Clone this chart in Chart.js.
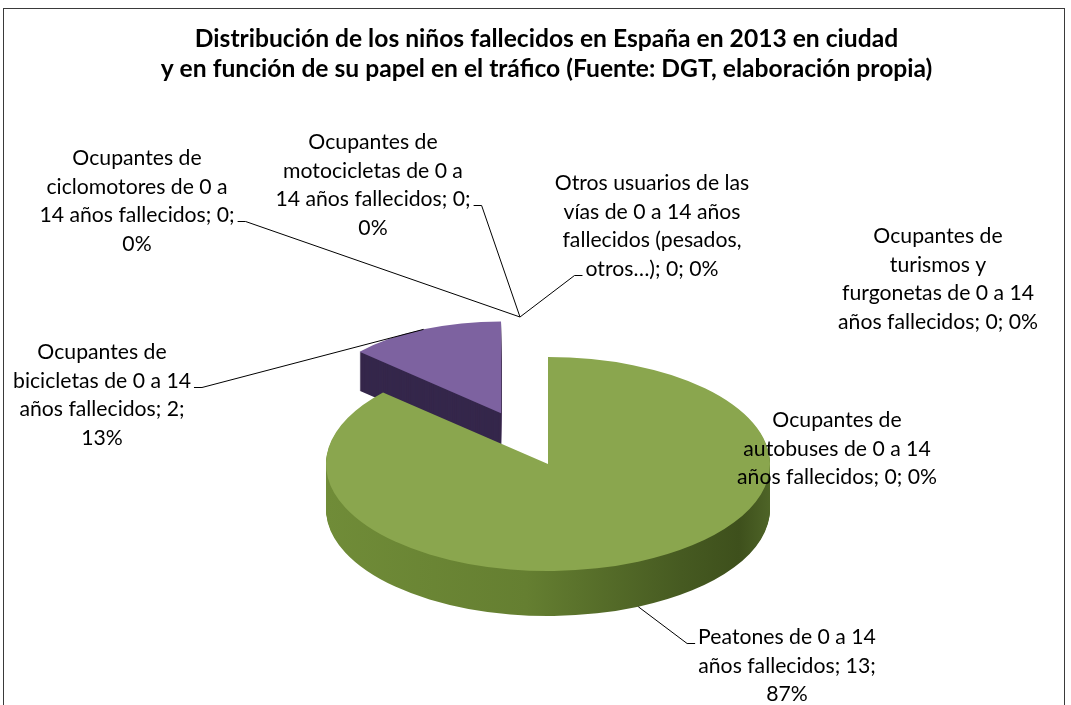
<!DOCTYPE html>
<html><head><meta charset="utf-8">
<script src="https://cdn.jsdelivr.net/npm/chart.js@4.4.1/dist/chart.umd.min.js"></script>
<style>html,body{margin:0;padding:0;background:#fff}canvas{display:block}</style>
</head><body>
<canvas id="c" width="1071" height="705"></canvas>
<script>
// ---------- data ----------
const titleLines = [
  "Distribución de los niños fallecidos en España en 2013 en ciudad",
  "y en función de su papel en el tráfico (Fuente: DGT, elaboración propia)"
];
const categories = [
  "Ocupantes de turismos y furgonetas de 0 a 14 años fallecidos",
  "Ocupantes de autobuses de 0 a 14 años fallecidos",
  "Peatones de 0 a 14 años fallecidos",
  "Ocupantes de bicicletas de 0 a 14 años fallecidos",
  "Ocupantes de ciclomotores de 0 a 14 años fallecidos",
  "Ocupantes de motocicletas de 0 a 14 años fallecidos",
  "Otros usuarios de las vías de 0 a 14 años fallecidos (pesados, otros…)"
];
const values = [0, 0, 13, 2, 0, 0, 0];

// ---------- styles ----------
const topColors  = ['#4F81BD', '#C0504D', '#8AA64E', '#7D62A0', '#4BACC6', '#F79646', '#2C4D75'];
const sideColors = ['#2c4a6e', '#6e2c2a', null, '#35274B', '#2a6272', '#8c5220', '#182a40'];
const PIE = { cx: 548, cy: 464, rx: 222, ry: 107, depth: 45, persp: 0.3,
              explode: [0, 0, 0, 0.52, 0, 0, 0] };
const LINE_H = 28.7;
const ZERO_ANCHOR = { x: 520, y: 317 };
// label layout: centre x, first line centre y, words per line, leader
const LABELS = [
  { x: 938, y: 236, breaks: [2, 2, 5, 4] },
  { x: 837, y: 420, breaks: [2, 5, 4] },
  { x: 787, y: 637, breaks: [5, 3, 1], leader: { line: 0, side: 'left', anchor: 'side' } },
  { x: 102, y: 352, breaks: [2, 5, 3, 1], leader: { line: 1, side: 'right', anchor: 'top' } },
  { x: 137, y: 158, breaks: [2, 4, 4, 1], leader: { line: 2, side: 'right', anchor: 'zero' } },
  { x: 373, y: 142, breaks: [2, 4, 4, 1], leader: { line: 2, side: 'right', anchor: 'zero' } },
  { x: 652, y: 183, breaks: [4, 6, 2, 3], leader: { line: 3, side: 'left', anchor: 'zero' } }
];

// ---------- font sizing ----------
const mctx = document.createElement('canvas').getContext('2d');
mctx.font = 'bold 22px Lato';
const TITLE_SIZE = 22 * 704 / mctx.measureText(titleLines[0]).width;
mctx.font = '21px Lato';
const LABEL_SIZE = 21 * 200 / mctx.measureText('años fallecidos; 0; 0%').width;
const total = values.reduce((s, v) => s + v, 0);

function geom(a, i) {
  const R = a.outerRadius;
  const m = (a.startAngle + a.endAngle) / 2;
  const d = PIE.explode[i] * PIE.rx;
  const f = 1 + PIE.persp * Math.sin(m) * PIE.explode[i];
  return { R, m, f, sx: PIE.rx * f / R, sy: PIE.ry * f / R,
    ex: d * Math.cos(m), ey: d * Math.sin(m) * PIE.ry / PIE.rx };
}

const framePlugin = {
  id: 'frame',
  beforeDraw(chart) {
    const ctx = chart.ctx;
    ctx.save();
    ctx.fillStyle = '#fff';
    ctx.fillRect(0, 0, chart.width, chart.height);
    ctx.strokeStyle = '#3a3a3a';
    ctx.lineWidth = 1;
    ctx.strokeRect(3.5, 8.5, 1061, 760);
    ctx.restore();
  }
};

const pie3d = {
  id: 'pie3d',
  beforeDatasetsDraw(chart) {
    const ctx = chart.ctx;
    const meta = chart.getDatasetMeta(0);
    const arcs = meta.data.map((a, i) => ({ a, i })).filter(o => o.a.circumference > 0);
    arcs.sort((p, q) => Math.sin((p.a.startAngle + p.a.endAngle) / 2) - Math.sin((q.a.startAngle + q.a.endAngle) / 2));
    for (const { a, i } of arcs) {
      const g = geom(a, i);
      const drawWith = (fill, t) => {
        ctx.save();
        ctx.translate(PIE.cx + g.ex, PIE.cy + g.ey + t);
        ctx.scale(g.sx, g.sy);
        ctx.translate(-a.x, -a.y);
        let f = fill;
        if (fill === null) {
          const gr = ctx.createLinearGradient(a.x - g.R, 0, a.x + g.R, 0);
          gr.addColorStop(0, '#708C38');
          gr.addColorStop(0.45, '#657F31');
          gr.addColorStop(0.8, '#465A21');
          gr.addColorStop(0.93, '#3E501C');
          gr.addColorStop(1, '#4E6427');
          f = gr;
        }
        const proxy = Object.create(a);
        proxy.options = Object.assign({}, a.options, { backgroundColor: f, borderWidth: 0, offset: 0 });
        a.draw.call(proxy, ctx);
        ctx.restore();
      };
      const dep = Math.round(PIE.depth * g.f);
      for (let t = dep; t >= 1; t--) drawWith(sideColors[i], t);
      drawWith(topColors[i], 0);
    }
    return false;
  },
  afterDraw(chart) {
    const ctx = chart.ctx;
    const meta = chart.getDatasetMeta(0);
    ctx.save();
    ctx.font = LABEL_SIZE + 'px Lato';
    ctx.textAlign = 'center';
    ctx.textBaseline = 'middle';
    ctx.fillStyle = '#000';
    ctx.strokeStyle = '#000';
    ctx.lineWidth = 1;
    categories.forEach((c, i) => {
      const L = LABELS[i];
      const pct = total ? Math.round(values[i] / total * 100) : 0;
      const words = (c + '; ' + values[i] + '; ' + pct + '%').split(' ');
      const lines = [];
      let k = 0;
      for (const n of L.breaks) { lines.push(words.slice(k, k + n).join(' ')); k += n; }
      lines.forEach((ln, j) => ctx.fillText(ln, L.x, L.y + j * LINE_H));
      if (L.leader) {
        const ld = L.leader;
        const w = ctx.measureText(lines[ld.line]).width;
        const y0 = Math.round(L.y + ld.line * LINE_H + 6) + 0.5;
        const x0 = ld.side === 'right' ? L.x + w / 2 + 3 : L.x - w / 2 - 3;
        const x1 = ld.side === 'right' ? x0 + 8 : x0 - 8;
        let ax, ay;
        if (ld.anchor === 'zero') { ax = ZERO_ANCHOR.x; ay = ZERO_ANCHOR.y; }
        else {
          const a = meta.data[i];
          const g = geom(a, i);
          ax = PIE.cx + g.ex + PIE.rx * g.f * Math.cos(g.m);
          ay = PIE.cy + g.ey + PIE.ry * g.f * Math.sin(g.m) + (ld.anchor === 'side' ? PIE.depth * g.f : 0);
        }
        ctx.beginPath();
        ctx.moveTo(x0, y0);
        ctx.lineTo(x1, y0);
        ctx.lineTo(ax, ay);
        ctx.stroke();
      }
    });
    ctx.restore();
  }
};

new Chart(document.getElementById('c'), {
  type: 'pie',
  data: {
    labels: categories,
    datasets: [{ data: values, backgroundColor: topColors, borderWidth: 0 }]
  },
  options: {
    responsive: false,
    devicePixelRatio: 1,
    animation: false,
    layout: { padding: { left: 22, top: 0 } },
    plugins: {
      legend: { display: false },
      tooltip: { enabled: false },
      title: {
        display: true,
        text: titleLines,
        color: '#000',
        font: { family: 'Lato', weight: 'bold', size: TITLE_SIZE, lineHeight: 30 / TITLE_SIZE },
        padding: { top: 24, bottom: 10 }
      }
    }
  },
  plugins: [framePlugin, pie3d]
});
</script>
</body></html>
